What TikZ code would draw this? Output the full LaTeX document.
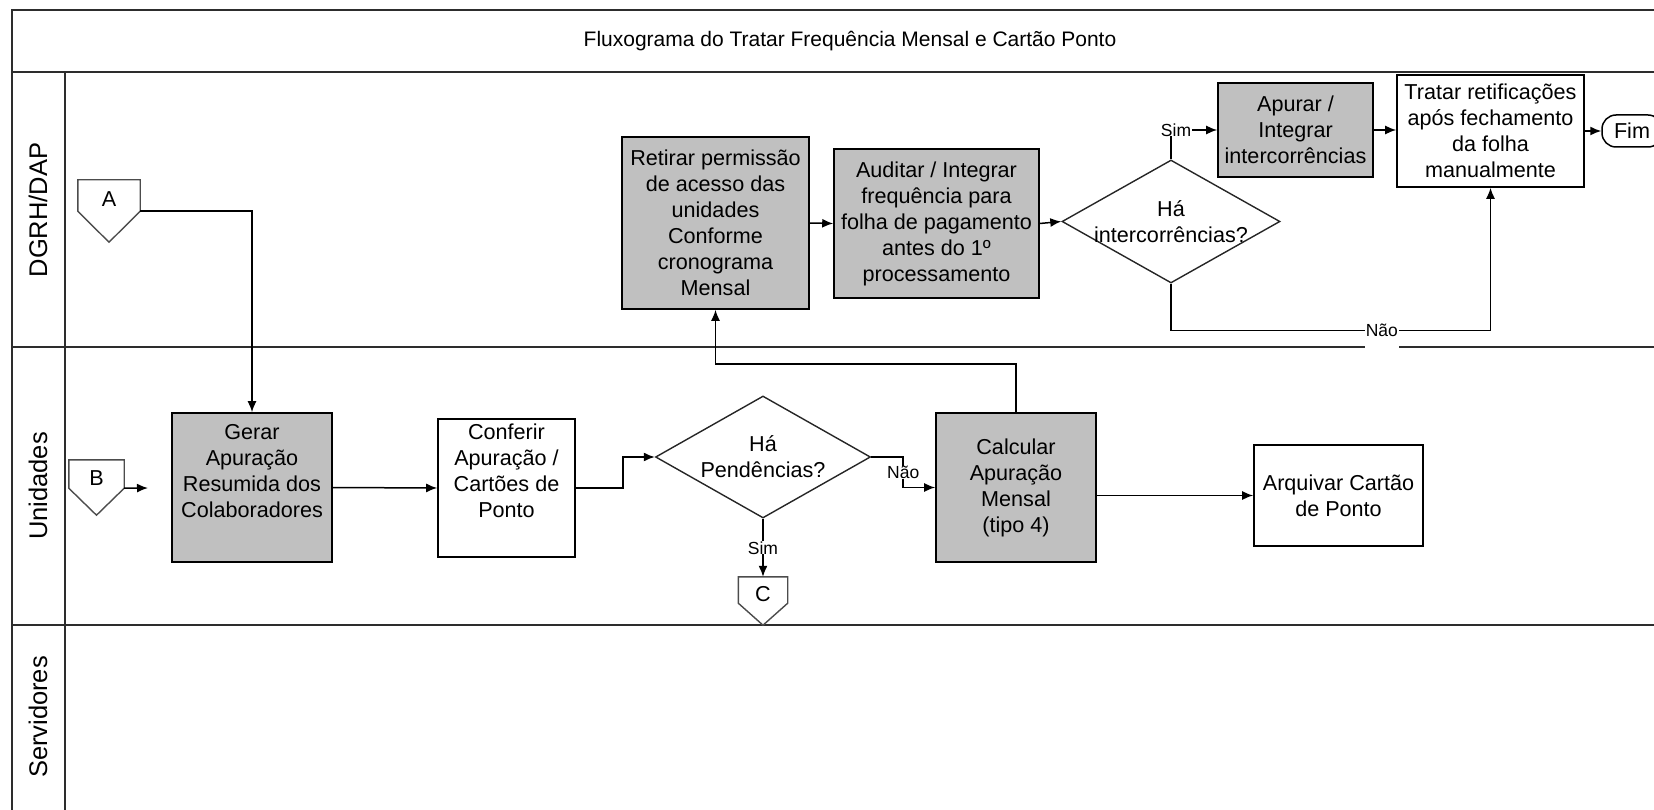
\documentclass[tikz,border=0pt]{standalone}
\usepackage{fontspec}
\setmainfont{Liberation Sans}
\usetikzlibrary{arrows.meta,calc,shapes.geometric}
\definecolor{boxgray}{RGB}{192,192,192}
\definecolor{frameln}{RGB}{45,45,45}
\tikzset{font=\fontsize{21.6}{26}\selectfont}
\tikzset{every node/.append style={inner sep=0pt, align=center}}
\tikzset{
  wh/.style 2 args={minimum width=#1pt, minimum height=#2pt},
  proc/.style={draw, line width=1.6pt},
  actv/.style={proc, fill=boxgray},
  decis/.style={draw, diamond, line width=1.4pt, draw=black!85},
  offpg/.style={text height=22pt, text depth=-7pt},
  offln/.style={line width=1.4pt, draw=black!70},
  flow/.style={line width=1.5pt, -{Latex[length=11pt,width=9pt]}},
  answ/.style={fill=white, font=\fontsize{17.5}{20}\selectfont, inner xsep=1pt},
  lane/.style={line width=2pt, draw=frameln},
  lanetitle/.style={rotate=90, font=\fontsize{25.5}{30}\selectfont}
}

\begin{document}
\begin{tikzpicture}[x=1pt,y=-1pt]
  \useasboundingbox (0,0) rectangle (1654,810);

  % raias
  \draw[lane] (1700,10) -- (11.5,10) -- (11.5,850);
  \draw[lane] (11.5,72) -- (1700,72);
  \draw[lane] (65,72) -- (65,850);
  \draw[lane] (11.5,347) -- (1700,347);
  \draw[lane] (11.5,625) -- (1700,625);

  \node[font=\fontsize{21}{25}\selectfont] (titulo) at (850,41)
    {Fluxograma do Tratar Frequência Mensal e Cartão Ponto};
  \node[lanetitle] (lnDGRH) at (38,210) {DGRH/DAP};
  \node[lanetitle] (lnUnid) at (38,486) {Unidades};
  \node[lanetitle] (lnServ) at (38,717) {Servidores};

  % conectores de pagina
  \node[offpg, wh={62}{31}] (conA) at (109,195.5) {A};
  \draw[offln] (conA.south west) |- (conA.north east) -- (conA.south east)
    -- ($(conA.south)+(0,31)$) -- cycle;
  \node[offpg, wh={55}{28}] (conB) at (96.5,474) {B};
  \draw[offln] (conB.south west) |- (conB.north east) -- (conB.south east)
    -- ($(conB.south)+(0,27)$) -- cycle;
  \node[offpg, wh={49}{26}] (conC) at (763,590) {C};
  \draw[offln] (conC.south west) |- (conC.north east) -- (conC.south east)
    -- ($(conC.south)+(0,22)$) -- cycle;

  % Unidades
  \node[actv, wh={160}{149}] (gerar) at (252,487.5)
    {Gerar\\Apuração\\Resumida dos\\Colaboradores\\\strut};
  \node[proc, wh={137}{138}] (conferir) at (506.5,488)
    {Conferir\\Apuração /\\Cartões de\\Ponto\\\strut};
  \node[decis, wh={215}{122}] (pend) at (763,457) {};
  \node (pendtxt) at (pend) {Há\\Pendências?};
  \node[actv, wh={160}{149}] (calcular) at (1016,487.5)
    {Calcular\\Apuração\\Mensal\\(tipo 4)};
  \node[proc, wh={169}{101}] (arquivar) at (1338.5,495.5)
    {Arquivar Cartão\\de Ponto};

  % DGRH/DAP
  \node[actv, wh={187}{172}] (retirar) at (715.5,223)
    {Retirar permissão\\de acesso das\\unidades\\Conforme\\cronograma\\Mensal};
  \node[actv, wh={205}{149}] (auditar) at (936.5,223.5)
    {Auditar / Integrar\\frequência para\\folha de pagamento\\antes do 1º\\processamento};
  \node[decis, wh={218}{123}] (interc) at (1171,221.5) {};
  \node (interctxt) at (interc) {Há\\intercorrências?};
  \node[actv, wh={155}{94}] (apurar) at (1295.5,130)
    {Apurar /\\Integrar\\intercorrências};
  \node[proc, wh={187}{112}] (tratar) at (1490.5,131)
    {Tratar retificações\\após fechamento\\da folha\\manualmente};
  \node[draw, line width=1.5pt, rounded corners=14pt, wh={60}{32}] (fim) at (1632,131) {Fim};

  \coordinate (bfree) at (148,488);
  \draw[flow] (conA.south east) -| (gerar.north);
  \draw[flow] (conB.south east) -- (bfree);
  \draw[flow] (gerar.east) -- (conferir.west);
  \draw[flow] (conferir.east) -- ++(47,0) |- (pend.west);
  \draw[flow] (pend.south) -- node[answ] (simC) {Sim} (conC.north);
  \draw[flow] (pend.east) -- ++(32,0) |- node[answ, pos=0.25] (naoC) {Não} (calcular.west);
  \draw[flow] (calcular.east |- arquivar.west) -- (arquivar.west);
  \draw[flow] (calcular.north) -- ++(0,-48) -| (retirar.south);
  \draw[flow] (retirar.east) -- (auditar.west);
  \draw[flow] (auditar.east) -- (interc.west);
  \draw[flow] (interc.north) |- node[answ, pos=0.5, xshift=5pt] (simA) {Sim} (apurar.west);
  \draw[flow] (apurar.east) -- (apurar.east -| tratar.west);
  \draw[flow] (tratar.east) -- (fim.west);
  \draw[flow] (interc.south) -- ++(0,47) -| node[answ, pos=0.33, minimum height=42pt] (naoT) {Não} (tratar.south);
\end{tikzpicture}
\end{document}
